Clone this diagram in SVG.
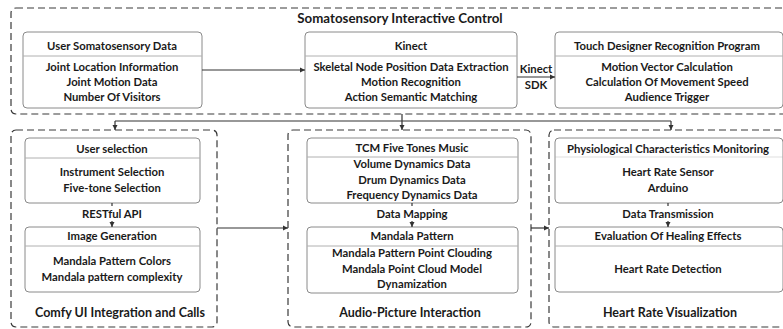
<svg xmlns="http://www.w3.org/2000/svg" width="783" height="329" viewBox="0 0 783 329">
<defs>
<marker id="ah" markerWidth="6" markerHeight="6" refX="5" refY="3" orient="auto" markerUnits="userSpaceOnUse">
<path d="M0,0.5 L5,3 L0,5.5 Z" fill="#333"/>
</marker>
<style>
.t{font-family:Lato,"Liberation Sans",sans-serif;font-weight:bold;font-size:11.3px;fill:#1a1a1a;text-anchor:middle}
.big{font-size:12.5px}
.ttl{font-size:13.3px}
.grp{fill:none;stroke:#3a3a3a;stroke-width:1.2;stroke-dasharray:7,4}
.box{fill:#fff;stroke:#8a8a8a;stroke-width:1}
.div{stroke:#b0b0b0;stroke-width:1}
.c{fill:none;stroke:#333;stroke-width:1.2}
</style>
</defs>
<rect width="783" height="329" fill="#fff"/>

<g id="top-group">
<rect class="grp" x="11" y="8" width="785" height="106" rx="5"/>
<text class="t ttl" x="400" y="23">Somatosensory Interactive Control</text>
</g>

<g id="user-data">
<rect class="box" x="23" y="32" width="179" height="76" rx="4"/>
<line class="div" x1="23" y1="56" x2="202" y2="56"/>
<text class="t" x="112" y="50">User Somatosensory Data</text>
<text class="t" x="112" y="71">Joint Location Information</text>
<text class="t" x="112" y="86">Joint Motion Data</text>
<text class="t" x="112" y="101">Number Of Visitors</text>
</g>

<g id="kinect">
<rect class="box" x="305" y="32" width="212" height="76" rx="4"/>
<line class="div" x1="305" y1="56" x2="517" y2="56"/>
<text class="t" x="411" y="50">Kinect</text>
<text class="t" x="411" y="71">Skeletal Node Position Data Extraction</text>
<text class="t" x="411" y="86">Motion Recognition</text>
<text class="t" x="411" y="101">Action Semantic Matching</text>
</g>

<g id="touch-designer">
<rect class="box" x="555" y="32" width="228" height="76" rx="4"/>
<line class="div" x1="555" y1="56" x2="783" y2="56"/>
<text class="t" x="667" y="50">Touch Designer Recognition Program</text>
<text class="t" x="667" y="71">Motion Vector Calculation</text>
<text class="t" x="667" y="86">Calculation Of Movement Speed</text>
<text class="t" x="667" y="101">Audience Trigger</text>
</g>

<g id="comfy-group">
<rect class="grp" x="11" y="130" width="206" height="197" rx="5"/>
<text class="t big" x="120" y="317">Comfy UI Integration and Calls</text>
</g>
<g id="user-selection">
<rect class="box" x="25" y="138" width="175" height="65" rx="4"/>
<line class="div" x1="25" y1="158" x2="200" y2="158"/>
<text class="t" x="112" y="153">User selection</text>
<text class="t" x="112" y="176">Instrument Selection</text>
<text class="t" x="112" y="192">Five-tone Selection</text>
</g>
<g id="image-generation">
<rect class="box" x="25" y="227" width="175" height="65" rx="4"/>
<line class="div" x1="25" y1="246" x2="200" y2="246"/>
<text class="t" x="112" y="240">Image Generation</text>
<text class="t" x="112" y="265">Mandala Pattern Colors</text>
<text class="t" x="112" y="281">Mandala pattern complexity</text>
</g>

<g id="audio-group">
<rect class="grp" x="288" y="130" width="243" height="197" rx="5"/>
<text class="t big" x="410" y="317">Audio-Picture Interaction</text>
</g>
<g id="tcm">
<rect class="box" x="307" y="138" width="211" height="65" rx="4"/>
<line class="div" x1="307" y1="157" x2="518" y2="157"/>
<text class="t" x="412" y="152">TCM Five Tones Music</text>
<text class="t" x="412" y="168">Volume Dynamics Data</text>
<text class="t" x="412" y="184">Drum Dynamics Data</text>
<text class="t" x="412" y="199">Frequency Dynamics Data</text>
</g>
<g id="mandala">
<rect class="box" x="307" y="227" width="211" height="66" rx="4"/>
<line class="div" x1="307" y1="246" x2="518" y2="246"/>
<text class="t" x="412" y="240">Mandala Pattern</text>
<text class="t" x="412" y="257">Mandala Pattern Point Clouding</text>
<text class="t" x="412" y="273">Mandala Point Cloud Model</text>
<text class="t" x="412" y="288">Dynamization</text>
</g>

<g id="heart-group">
<rect class="grp" x="549" y="130" width="247" height="197" rx="5"/>
<text class="t big" x="670" y="317">Heart Rate Visualization</text>
</g>
<g id="physio">
<rect class="box" x="555" y="138" width="228" height="65" rx="4"/>
<line class="div" x1="555" y1="157" x2="783" y2="157" stroke-opacity="0.4"/>
<text class="t" x="668" y="153">Physiological Characteristics Monitoring</text>
<text class="t" x="668" y="176">Heart Rate Sensor</text>
<text class="t" x="668" y="192">Arduino</text>
</g>
<g id="evaluation">
<rect class="box" x="555" y="227" width="228" height="65" rx="4" stroke="#444"/>
<line class="div" x1="555" y1="246" x2="783" y2="246"/>
<text class="t" x="668" y="240">Evaluation Of Healing Effects</text>
<text class="t" x="668" y="273">Heart Rate Detection</text>
</g>

<g id="connectors">
<line class="c" x1="202" y1="70" x2="305" y2="70" marker-end="url(#ah)"/>
<line class="c" x1="517" y1="77" x2="555" y2="77" marker-end="url(#ah)"/>
<text class="t" x="536" y="73">Kinect</text>
<text class="t" x="536" y="89">SDK</text>
<line class="c" x1="115" y1="121" x2="671" y2="121"/>
<line class="c" x1="115" y1="121" x2="115" y2="130" marker-end="url(#ah)"/>
<line class="c" x1="402" y1="114" x2="402" y2="130" marker-end="url(#ah)"/>
<line class="c" x1="671" y1="121" x2="671" y2="130" marker-end="url(#ah)"/>
<line class="c" x1="217" y1="228" x2="288" y2="228" marker-end="url(#ah)"/>
<line class="c" x1="531" y1="228" x2="549" y2="228" marker-end="url(#ah)"/>
<line class="c" x1="112" y1="203" x2="112" y2="206" stroke-width="0.8"/>
<text class="t" x="112" y="218">RESTful API</text>
<line class="c" x1="112" y1="221" x2="112" y2="227" stroke-width="0.8" marker-end="url(#ah)"/>
<line class="c" x1="412" y1="203" x2="412" y2="206" stroke-width="0.8"/>
<text class="t" x="412" y="218">Data Mapping</text>
<line class="c" x1="412" y1="221" x2="412" y2="227" stroke-width="0.8" marker-end="url(#ah)"/>
<line class="c" x1="668" y1="203" x2="668" y2="206" stroke-width="0.8"/>
<text class="t" x="668" y="218">Data Transmission</text>
<line class="c" x1="668" y1="221" x2="668" y2="227" stroke-width="0.8" marker-end="url(#ah)"/>
</g>
</svg>
